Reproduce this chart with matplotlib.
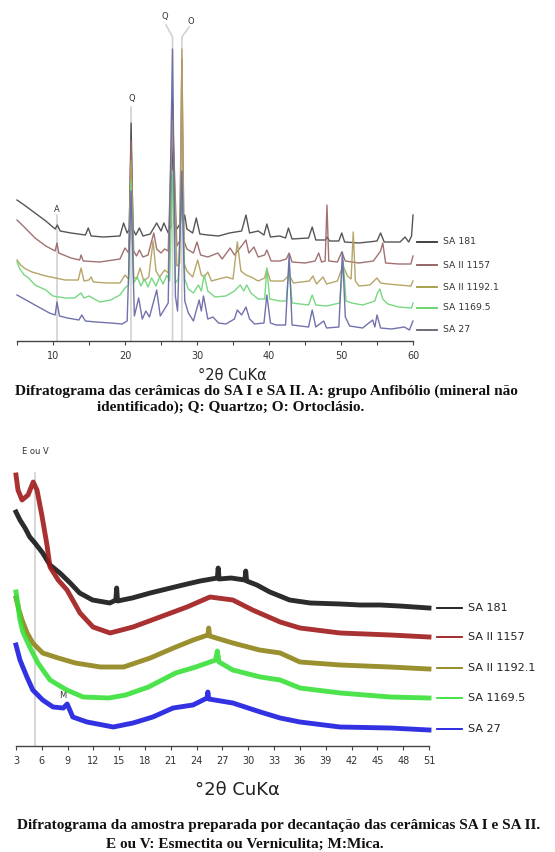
import matplotlib
matplotlib.use("Agg")
import matplotlib.pyplot as plt
import matplotlib.transforms as mtransforms

# ---- top diffractogram (2theta, intensity offset) ----
top_names = ["SA 181", "SA II 1157", "SA II 1192.1", "SA 1169.5", "SA 27"]

sa181_top = [(5.0, 141), (6.0, 136), (7.5, 128), (9.0, 120), (10.3, 112), (10.6, 116), (11.0, 110),
             (12.5, 108), (14.5, 106), (14.9, 113), (15.3, 105), (17.0, 104), (19.3, 105), (19.8, 118),
             (20.3, 108), (20.6, 112), (20.85, 218), (21.1, 112), (21.5, 106), (22.0, 113), (22.5, 105),
             (23.5, 107), (24.4, 118), (25.0, 110), (25.4, 118), (26.0, 108), (26.4, 115), (26.6, 241),
             (26.8, 118), (27.2, 112), (27.7, 118), (27.9, 150), (28.1, 120), (28.3, 126), (28.6, 112),
             (29.4, 108), (29.9, 123), (30.4, 107), (31.5, 106), (33.0, 105), (34.5, 108), (36.2, 110),
             (36.8, 126), (37.3, 108), (38.5, 110), (39.3, 106), (39.7, 117), (40.2, 104), (41.5, 105),
             (42.3, 103), (42.7, 113), (43.2, 102), (45.5, 103), (46.0, 114), (46.5, 101), (47.8, 101),
             (48.1, 104), (48.4, 100), (49.7, 100), (50.1, 108), (50.5, 99), (52.5, 98), (55.0, 100),
             (55.5, 108), (56.0, 99), (58.2, 99), (58.9, 104), (59.4, 99), (59.8, 105), (60.0, 126)]

sa1157_top = [(5.0, 121), (6.0, 114), (7.5, 103), (9.0, 95), (10.3, 90), (10.55, 98), (10.8, 88),
              (12.5, 83), (13.7, 81), (13.9, 86), (14.2, 80), (16.5, 79), (19.3, 82), (20.0, 93),
              (20.5, 88), (20.85, 200), (21.2, 90), (21.6, 85), (22.0, 91), (22.5, 84), (23.2, 86),
              (23.7, 100), (24.0, 108), (24.4, 92), (25.0, 88), (25.5, 92), (26.0, 90), (26.6, 231),
              (27.2, 95), (27.6, 100), (27.9, 282), (28.2, 100), (28.6, 92), (29.5, 88), (30.0, 99),
              (30.5, 86), (31.5, 84), (32.9, 88), (33.5, 82), (34.6, 93), (35.2, 86), (36.3, 96),
              (36.8, 101), (37.2, 88), (37.9, 94), (38.5, 84), (39.4, 86), (39.7, 91), (40.3, 80),
              (41.5, 80), (42.4, 82), (42.8, 88), (43.2, 79), (45.0, 78), (46.4, 80), (46.9, 88),
              (47.3, 79), (47.8, 80), (48.05, 136), (48.3, 80), (49.5, 79), (50.1, 89), (50.6, 80),
              (52.5, 78), (54.5, 80), (55.5, 90), (55.8, 98), (56.2, 78), (58.0, 77), (59.7, 77), (60.0, 85)]

sa1192_top = [(5.0, 81), (5.5, 76), (6.2, 72), (7.1, 69), (9.0, 65), (11.7, 61), (13.5, 61), (13.9, 73),
              (14.3, 60), (15.0, 61), (15.3, 64), (15.6, 59), (17.5, 58), (19.3, 58), (20.0, 66),
              (20.5, 62), (20.85, 180), (21.2, 64), (21.6, 62), (22.1, 73), (22.6, 60), (23.3, 64),
              (23.9, 100), (24.3, 70), (24.8, 64), (25.5, 71), (26.0, 68), (26.6, 221), (27.2, 75),
              (27.6, 78), (27.9, 292), (28.2, 78), (28.6, 70), (29.4, 64), (30.1, 81), (30.6, 66),
              (31.0, 64), (31.5, 69), (32.0, 60), (33.0, 62), (34.1, 64), (35.0, 62), (35.6, 99),
              (36.1, 70), (36.8, 66), (37.5, 64), (38.5, 60), (39.4, 63), (39.7, 72), (40.2, 60),
              (42.0, 60), (42.8, 66), (43.4, 58), (45.6, 60), (46.1, 65), (46.6, 57), (47.5, 64),
              (48.0, 57), (49.5, 60), (50.0, 70), (50.3, 75), (50.9, 65), (51.4, 62), (51.7, 109),
              (52.0, 60), (52.5, 55), (54.0, 56), (55.0, 63), (55.5, 58), (56.5, 57), (58.0, 56),
              (59.7, 55), (60.0, 60)]

sa1169_top = [(5.0, 79), (5.4, 72), (6.0, 66), (6.6, 63), (7.5, 56), (9.0, 51), (10.0, 45), (11.7, 43),
              (13.0, 43), (13.9, 48), (14.3, 43), (15.0, 45), (16.5, 39), (18.0, 41), (19.3, 46),
              (20.0, 53), (20.5, 56), (20.85, 160), (21.2, 58), (21.7, 64), (22.2, 55), (22.7, 62),
              (23.2, 54), (23.7, 63), (24.3, 55), (24.8, 64), (25.3, 57), (25.8, 66), (26.2, 60),
              (26.6, 170), (27.0, 58), (27.4, 62), (27.9, 160), (28.3, 62), (28.8, 52), (29.5, 48),
              (30.2, 56), (30.6, 50), (31.0, 66), (31.5, 50), (32.5, 44), (34.0, 45), (35.2, 50),
              (36.0, 56), (36.5, 50), (36.9, 56), (37.5, 48), (38.5, 42), (39.4, 42), (39.7, 73),
              (40.1, 42), (41.5, 40), (42.4, 40), (42.8, 75), (43.2, 38), (45.5, 36), (46.0, 46),
              (46.5, 36), (48.0, 35), (49.8, 38), (50.3, 80), (50.7, 40), (51.5, 38), (53.0, 36),
              (54.7, 40), (55.0, 47), (55.4, 52), (55.8, 42), (56.5, 37), (58.0, 34), (59.8, 33), (60.0, 38)]

sa27_top = [(5.0, 46), (6.0, 42), (7.5, 36), (9.5, 28), (10.3, 26), (10.55, 39), (10.9, 25), (12.0, 23),
            (13.6, 21), (14.0, 26), (14.5, 20), (16.0, 19), (18.0, 18), (19.6, 17), (20.3, 20),
            (20.85, 150), (21.3, 25), (21.9, 43), (22.4, 22), (22.9, 30), (23.4, 24), (24.4, 51),
            (24.9, 25), (25.5, 32), (26.0, 38), (26.6, 292), (27.0, 45), (27.3, 30), (27.9, 170),
            (28.3, 40), (28.8, 28), (29.5, 20), (30.3, 41), (30.6, 30), (30.9, 45), (31.5, 22),
            (32.2, 24), (33.0, 18), (34.0, 17), (35.2, 22), (35.6, 31), (36.2, 26), (36.8, 34),
            (37.3, 22), (38.0, 17), (39.3, 18), (39.7, 46), (40.2, 18), (41.0, 16), (42.3, 16),
            (42.8, 86), (43.2, 16), (45.5, 14), (46.0, 31), (46.5, 14), (47.6, 20), (48.0, 13),
            (49.7, 14), (50.2, 89), (50.6, 24), (51.2, 15), (53.0, 13), (54.4, 21), (54.7, 14),
            (55.0, 26), (55.5, 13), (57.0, 12), (58.8, 14), (59.5, 11), (60.0, 20)]

top_series = [sa181_top, sa1157_top, sa1192_top, sa1169_top, sa27_top]
top_colors = ["#4d4d4d", "#9c6a6a", "#b3a060", "#72d67c", "#6a6aa8"]
top_legend_colors = ["#333333", "#8a5a5a", "#a09a40", "#5fd060", "#606070"]
top_legend_y = [99, 76, 54, 33, 11]

top_peaks = [10.55, 20.85, 26.6, 27.9]
top_peak_labels = ["A", "Q", "Q", "O"]

# ---- bottom diffractogram (decanted samples) ----
sa181_bot = [(3.0, 234), (3.46, 226), (4.05, 218), (4.6, 209), (5.2, 203), (6.1, 193), (6.95, 181),
             (8.1, 173), (9.3, 163), (10.4, 153), (11.9, 146), (13.9, 143), (14.6, 146), (14.7, 158),
             (14.8, 145), (16.5, 148), (18.6, 153), (20.5, 157), (22.4, 161), (24.4, 165), (26.4, 168),
             (26.5, 178), (26.6, 167), (28.0, 168), (29.6, 166), (29.7, 175), (29.8, 165), (31.0, 161),
             (32.5, 154), (34.8, 146), (37.2, 143), (40.7, 142), (43.0, 141), (45.3, 141), (47.6, 140),
             (51.0, 138)]
sa1157_bot = [(3.0, 271), (3.23, 256), (3.7, 246), (4.4, 251), (5.0, 264), (5.44, 256), (6.0, 231),
              (6.6, 201), (6.95, 179), (7.9, 166), (8.93, 156), (10.44, 133), (11.95, 119), (13.93, 113),
              (16.6, 119), (19.74, 129), (22.87, 139), (25.55, 149), (28.2, 146), (30.5, 136),
              (33.7, 124), (36.0, 118), (40.66, 113), (46.5, 111), (51.0, 109)]
sa1192_bot = [(3.0, 148), (3.35, 136), (3.7, 126), (4.3, 113), (4.95, 103), (6.1, 93), (7.9, 88),
              (9.9, 83), (12.8, 79), (15.5, 79), (18.6, 88), (21.3, 98), (23.6, 106), (25.3, 111),
              (25.4, 118), (25.5, 110), (28.2, 103), (31.3, 96), (33.7, 93), (36.0, 84), (40.7, 81),
              (46.5, 79), (51.0, 77)]
sa1169_bot = [(3.0, 154), (3.23, 141), (3.46, 126), (3.8, 114), (4.6, 99), (5.55, 83), (6.95, 66),
              (8.9, 56), (10.8, 49), (13.8, 48), (15.75, 51), (18.4, 59), (21.55, 73), (23.9, 79),
              (26.2, 86), (26.4, 95), (26.6, 84), (28.2, 76), (31.4, 69), (33.7, 66), (36.0, 58),
              (40.7, 53), (46.5, 49), (51.0, 48)]
sa27_bot = [(3.0, 101), (3.46, 86), (4.27, 69), (4.95, 56), (6.1, 46), (7.3, 39), (8.5, 38), (8.95, 42),
            (9.6, 29), (11.25, 24), (14.3, 19), (16.6, 23), (18.9, 29), (21.25, 38), (23.57, 41),
            (25.2, 48), (25.3, 54), (25.4, 47), (28.2, 43), (31.4, 34), (33.7, 28), (36.0, 24),
            (40.66, 19), (46.5, 18), (51.0, 16)]

bot_series = [sa181_bot, sa1157_bot, sa1192_bot, sa1169_bot, sa27_bot]
bot_colors = ["#151515", "#a01a1a", "#8f8418", "#38e038", "#1c1ce0"]
bot_legend_y = [138, 109, 78, 48, 17]

fig = plt.figure(figsize=(5.55, 8.52), dpi=100)
fig.patch.set_facecolor("white")


def style_axis(ax):
    for side in ["left", "right", "top"]:
        ax.spines[side].set_visible(False)
    ax.spines["bottom"].set_color("#444444")
    ax.spines["bottom"].set_linewidth(1.0)
    ax.set_yticks([])
    ax.tick_params(axis="x", which="both", direction="out", length=3, width=0.8,
                   color="#444444", labelsize=7, labelcolor="#333333", pad=4)
    ax.patch.set_alpha(0)


# top panel
ax1 = fig.add_axes([17 / 555, 1 - 341 / 852, 396 / 555, 331 / 852])
ax1.set_xlim(5, 60)
ax1.set_ylim(0, 331)
style_axis(ax1)
ax1.set_xticks([10, 20, 30, 40, 50, 60])
ax1.set_xticks([5, 15, 25, 35, 45, 55], minor=True)

# reference lines
ax1.plot([top_peaks[0]] * 2, [0, 126], color="#d2d2d2", lw=1.2, zorder=1)
ax1.plot([top_peaks[1]] * 2, [0, 234], color="#d2d2d2", lw=1.2, zorder=1)
ax1.plot([top_peaks[2], top_peaks[2], 25.7], [0, 304, 316], color="#d2d2d2", lw=1.2, zorder=1)
ax1.plot([top_peaks[3], top_peaks[3], 28.9], [0, 304, 314], color="#d2d2d2", lw=1.2, zorder=1)
label_pos = [(10.55, 131), (21.0, 242), (25.5, 324), (29.2, 320)]
for (lx, ly), lab in zip(label_pos, top_peak_labels):
    ax1.text(lx, ly, lab, fontsize=6, color="#333333", ha="center", va="center")

for data, col in zip(top_series, top_colors):
    xs, ys = zip(*data)
    ax1.plot(xs, ys, color=col, lw=1.0, alpha=0.95, clip_on=False, zorder=3)

trans1 = mtransforms.blended_transform_factory(ax1.transAxes, ax1.transData)
for name, col, y in zip(top_names, top_legend_colors, top_legend_y):
    ax1.plot([1.010, 1.061], [y, y], color=col, lw=1.3, transform=trans1, clip_on=False)
    ax1.text(1.076, y, name, fontsize=6.7, color="#333333", va="center", transform=trans1)

# bottom panel
ax2 = fig.add_axes([16 / 555, 1 - 746 / 852, 413 / 555, 306 / 852])
ax2.set_xlim(3, 51)
ax2.set_ylim(0, 306)
style_axis(ax2)
ax2.set_xticks(list(range(3, 52, 3)))

ax2.plot([5.2, 5.2], [0, 273], color="#cfcfcf", lw=1.2, zorder=1)
ax2.text(5.2, 294, "E ou V", fontsize=6, color="#333333", ha="center", va="center")
ax2.text(8.46, 50, "M", fontsize=6, color="#333333", ha="center", va="center")

for data, col in zip(bot_series, bot_colors):
    xs, ys = zip(*data)
    ax2.plot(xs, ys, color=col, lw=3.5, alpha=0.9, solid_joinstyle="round", clip_on=False, zorder=3)

trans2 = mtransforms.blended_transform_factory(ax2.transAxes, ax2.transData)
for name, col, y in zip(top_names, bot_colors, bot_legend_y):
    ax2.plot([1.019, 1.080], [y, y], color=col, lw=1.3, transform=trans2, clip_on=False)
    ax2.text(1.094, y, name, fontsize=8, color="#222222", va="center", transform=trans2)

# axis titles and captions
fig.text(232 / 555, 1 - 375 / 852, "°2θ CuKα", fontsize=10.5, color="#222222", ha="center", va="center")
fig.text(237 / 555, 1 - 790 / 852, "°2θ CuKα", fontsize=13, color="#222222", ha="center", va="center")

cap = dict(family="Liberation Serif", weight="bold", fontsize=11, color="#111111", va="center")
fig.text(15 / 555, 1 - 391 / 852,
         "Difratograma das cerâmicas do SA I e SA II. A: grupo Anfibólio (mineral não", **cap)
fig.text(97 / 555, 1 - 407 / 852, "identificado); Q: Quartzo; O: Ortoclásio.", **cap)
fig.text(17 / 555, 1 - 826 / 852,
         "Difratograma da amostra preparada por decantação das cerâmicas SA I e SA II.", **cap)
fig.text(106 / 555, 1 - 844 / 852, "E ou V: Esmectita ou Verniculita; M:Mica.", **cap)

fig.savefig("out.png", dpi=100)
